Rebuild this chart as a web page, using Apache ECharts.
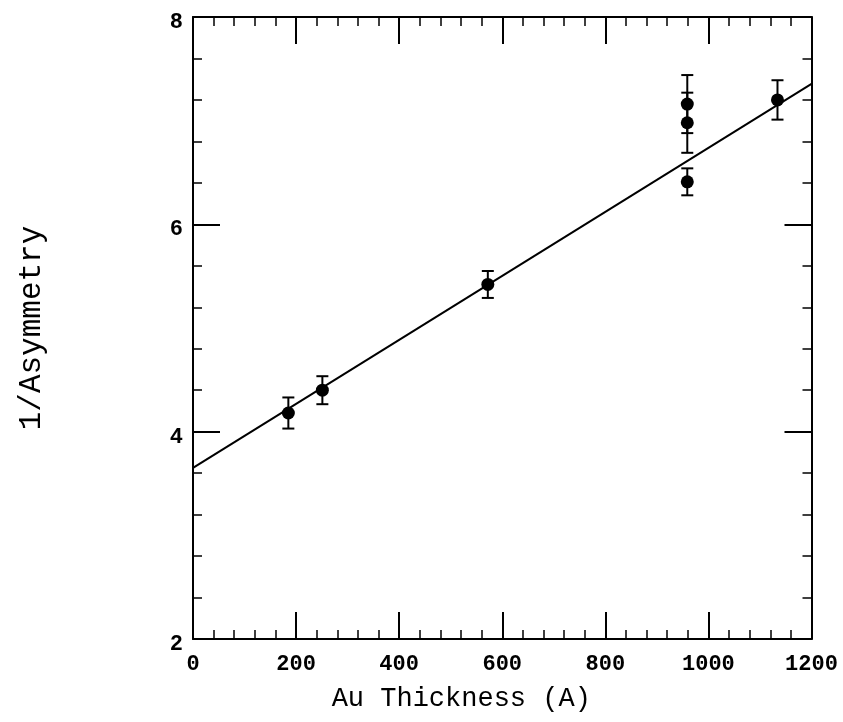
<!DOCTYPE html>
<html>
<head>
<meta charset="utf-8">
<script src="https://cdn.jsdelivr.net/npm/echarts@6/dist/echarts.min.js"></script>
<style>
  html, body { margin: 0; padding: 0; background: #fff; }
  #chart { width: 843px; height: 722px; }
</style>
</head>
<body>
<div id="chart"></div>
<script>
// Measured gold-layer thickness (Å) and inverse asymmetry with uncertainties
const thickness = [185, 251, 572, 959, 959, 959, 1134];
const invAsym   = [4.18, 4.40, 5.42, 7.16, 6.98, 6.41, 7.20];
const invAsymErr = [0.15, 0.135, 0.13, 0.28, 0.29, 0.13, 0.19];

// Straight-line fit, given by its end points
const fitX = [0, 1200];
const fitY = [3.65, 7.355];

// Axis ranges and tick spacing
const xRange = [0, 1200];
const yRange = [2, 8];
const xMajor = 200;
const yMajor = 2;

const FONT = '"Liberation Mono", "DejaVu Sans Mono", monospace';
const INK = '#000';

const points = thickness.map((x, i) => [x, invAsym[i], invAsymErr[i]]);
const fitLine = fitX.map((x, i) => [x, fitY[i]]);

function axisCommon(showLabels, pos) {
  return {
    position: pos,
    axisLine: { show: true, onZero: false, lineStyle: { color: INK, width: 2 } },
    axisTick: { show: true, inside: true, length: 27, lineStyle: { color: INK, width: 2 } },
    minorTick: { show: true, splitNumber: 5, length: 9, lineStyle: { color: INK, width: 1.5 } },
    splitLine: { show: false },
    axisLabel: { show: showLabels }
  };
}

const chart = echarts.init(document.getElementById('chart'), null, { renderer: 'canvas' });

chart.setOption({
  backgroundColor: '#fff',
  animation: false,
  grid: { left: 193, right: 31.5, top: 17, bottom: 83, containLabel: false, outerBoundsMode: 'none' },
  xAxis: [
    Object.assign(axisCommon(true, 'bottom'), {
      type: 'value', min: xRange[0], max: xRange[1], interval: xMajor,
      name: 'Au Thickness (A)', nameLocation: 'middle', nameGap: 46,
      nameTextStyle: { color: INK, fontFamily: FONT, fontSize: 27, padding: [0, 82, 0, 0] },
      axisLabel: {
        show: true, color: INK, fontFamily: FONT, fontWeight: 'bold', fontSize: 22, margin: 14,
        formatter: v => String(v)
      }
    }),
    Object.assign(axisCommon(false, 'top'), {
      type: 'value', min: xRange[0], max: xRange[1], interval: xMajor
    })
  ],
  yAxis: [
    Object.assign(axisCommon(true, 'left'), {
      type: 'value', min: yRange[0], max: yRange[1], interval: yMajor,
      name: '1/Asymmetry', nameLocation: 'middle', nameGap: 146, nameRotate: 90,
      nameTextStyle: { color: INK, fontFamily: FONT, fontSize: 31 },
      axisLabel: {
        show: true, margin: 10,
        formatter: v => '{t|' + v + '}',
        rich: {
          t: { color: INK, fontFamily: FONT, fontWeight: 'bold', fontSize: 22, padding: [11, 0, 0, 0] }
        }
      }
    }),
    Object.assign(axisCommon(false, 'right'), {
      type: 'value', min: yRange[0], max: yRange[1], interval: yMajor
    })
  ],
  series: [
    {
      type: 'line',
      data: fitLine,
      symbol: 'none',
      lineStyle: { color: INK, width: 2 },
      z: 2
    },
    {
      type: 'custom',
      data: points,
      z: 3,
      renderItem: function (params, api) {
        const x = api.value(0), y = api.value(1), e = api.value(2);
        const top = api.coord([x, y + e]);
        const bot = api.coord([x, y - e]);
        const cap = 6;
        const style = { stroke: INK, lineWidth: 2 };
        return {
          type: 'group',
          children: [
            { type: 'line', shape: { x1: top[0], y1: top[1], x2: bot[0], y2: bot[1] }, style: style },
            { type: 'line', shape: { x1: top[0] - cap, y1: top[1], x2: top[0] + cap, y2: top[1] }, style: style },
            { type: 'line', shape: { x1: bot[0] - cap, y1: bot[1], x2: bot[0] + cap, y2: bot[1] }, style: style }
          ]
        };
      }
    },
    {
      type: 'scatter',
      data: points.map(p => [p[0], p[1]]),
      symbol: 'circle',
      symbolSize: 13,
      itemStyle: { color: INK, opacity: 1 },
      z: 4
    }
  ]
});
</script>
</body>
</html>
